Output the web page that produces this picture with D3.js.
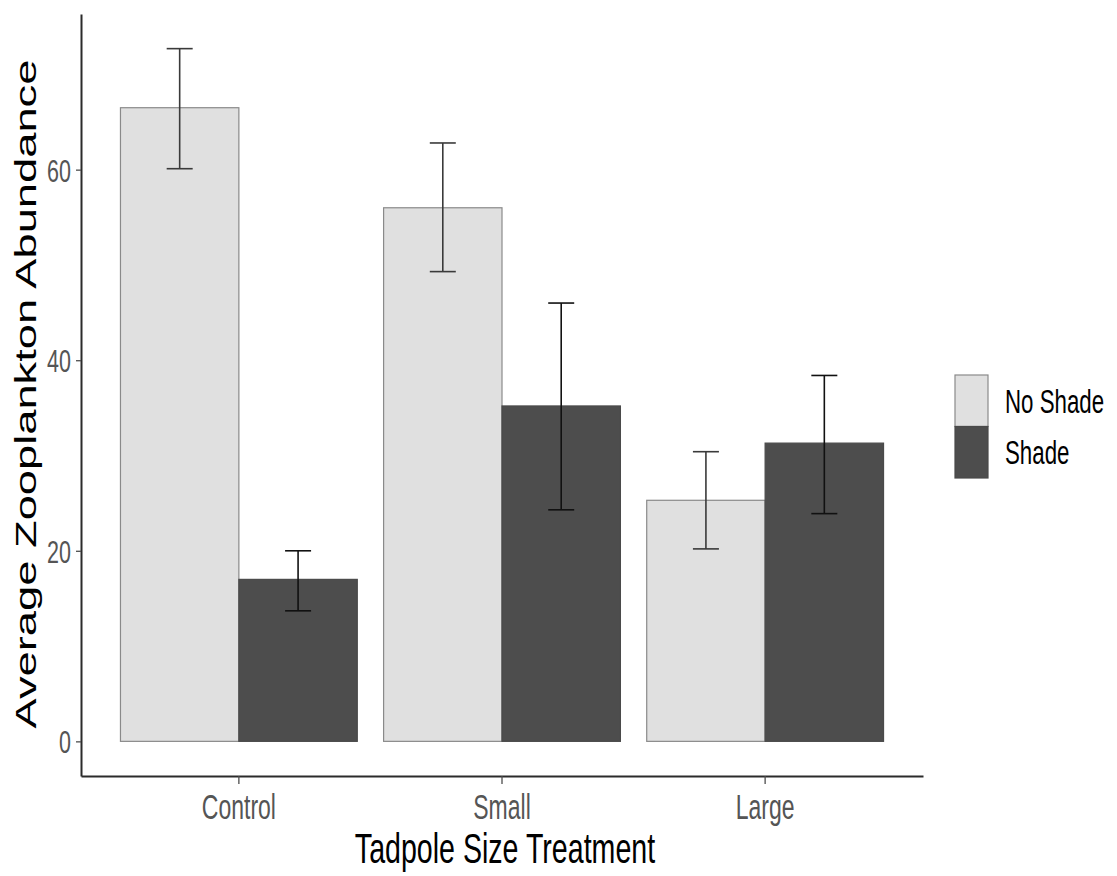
<!DOCTYPE html>
<html>
<head>
<meta charset="utf-8">
<script src="https://cdn.jsdelivr.net/npm/d3@7"></script>
<style>
  html, body { margin: 0; padding: 0; background: #ffffff; }
  svg { display: block; }
  text { font-family: "Liberation Sans", Arial, sans-serif; }
</style>
</head>
<body>
<svg id="chart" width="1117" height="876"></svg>
<script>
// ---- data ----
const categories = ["Control", "Small", "Large"];
const series = ["No Shade", "Shade"];
const noShadeMean  = [66.5, 56.0, 25.3];
const noShadeLower = [60.1, 49.3, 20.2];
const noShadeUpper = [72.7, 62.8, 30.4];
const shadeMean    = [17.0, 35.2, 31.3];
const shadeLower   = [13.7, 24.3, 23.9];
const shadeUpper   = [20.0, 46.0, 38.4];
const yTicks = [0, 20, 40, 60];
const xTitle = "Tadpole Size Treatment";
const yTitle = "Average Zooplankton Abundance";

// ---- layout ----
const SY = 1.5; // vertical stretch of text in reference
const plot = { left: 81, right: 923, top: 14, bottom: 776 };
const colors = { "No Shade": "#e0e0e0", "Shade": "#4d4d4d" };
const strokes = { "No Shade": "#8a8a8a", "Shade": "#4a4a4a" };

const rows = [];
categories.forEach((c, i) => {
  rows.push({ cat: c, s: "No Shade", v: noShadeMean[i], lo: noShadeLower[i], hi: noShadeUpper[i] });
  rows.push({ cat: c, s: "Shade", v: shadeMean[i], lo: shadeLower[i], hi: shadeUpper[i] });
});

const svg = d3.select("#chart");

const x0 = d3.scaleBand().domain(categories).range([plot.left, plot.right])
  .paddingInner(0.1).paddingOuter(0.15);
const x1 = d3.scaleBand().domain(series).range([0, x0.bandwidth()]).padding(0);

const yMax = d3.max(rows, d => d.hi);
const pad = yMax * 0.05;
const y = d3.scaleLinear().domain([-pad, yMax + pad]).range([plot.bottom, plot.top]);

// bars
svg.append("g").selectAll("rect").data(rows).join("rect")
  .attr("x", d => x0(d.cat) + x1(d.s))
  .attr("y", d => y(d.v))
  .attr("width", x1.bandwidth())
  .attr("height", d => y(0) - y(d.v))
  .attr("fill", d => colors[d.s])
  .attr("stroke", d => strokes[d.s])
  .attr("stroke-width", 1.2);

// error bars
const capW = 26;
rows.forEach(d => {
  const cx = x0(d.cat) + x1(d.s) + x1.bandwidth() / 2;
  const eg = svg.append("g").attr("stroke", d.s === "Shade" ? "#111111" : "#3a3a3a")
    .attr("stroke-width", 1.6).attr("fill", "none");
  eg.append("line").attr("x1", cx).attr("x2", cx).attr("y1", y(d.hi)).attr("y2", y(d.lo));
  eg.append("line").attr("x1", cx - capW / 2).attr("x2", cx + capW / 2).attr("y1", y(d.hi)).attr("y2", y(d.hi));
  eg.append("line").attr("x1", cx - capW / 2).attr("x2", cx + capW / 2).attr("y1", y(d.lo)).attr("y2", y(d.lo));
});

// y axis
const yAxis = svg.append("g").attr("transform", `translate(${plot.left},0)`)
  .call(d3.axisLeft(y).tickValues(yTicks).tickSize(5).tickSizeOuter(0).tickFormat(d3.format("d")));
yAxis.select(".domain").attr("stroke", "#2b2b2b").attr("stroke-width", 2);
yAxis.selectAll(".tick line").attr("stroke", "#4d4d4d").attr("stroke-width", 1.3);
yAxis.selectAll(".tick text")
  .attr("x", -10).attr("dy", "0.36em")
  .attr("transform", `scale(1,${SY})`)
  .attr("fill", "#555555").attr("font-size", 21.5)
  .style("font-family", '"Liberation Sans", Arial, sans-serif');

// x axis
const xAxis = svg.append("g").attr("transform", `translate(0,${plot.bottom})`)
  .call(d3.axisBottom(x0).tickSize(8).tickSizeOuter(0));
xAxis.select(".domain").attr("stroke", "#2b2b2b").attr("stroke-width", 2.2);
xAxis.selectAll(".tick line").attr("stroke", "#4d4d4d").attr("stroke-width", 1.3);
xAxis.selectAll(".tick text")
  .attr("y", 43 / SY).attr("dy", 0)
  .attr("transform", `scale(1,${SY})`)
  .attr("fill", "#555555").attr("font-size", 23)
  .style("font-family", '"Liberation Sans", Arial, sans-serif');

// axis titles
svg.append("text")
  .attr("transform", `translate(${(plot.left + plot.right) / 2 + 3},863) scale(1,${SY})`)
  .attr("text-anchor", "middle").attr("font-size", 28.6).attr("fill", "#000")
  .text(xTitle);

svg.append("text")
  .attr("transform", `translate(36,${(725 + 63) / 2}) scale(1,1.52) rotate(-90)`)
  .attr("text-anchor", "middle").attr("font-size", 29.8).attr("fill", "#000")
  .text(yTitle);

// legend
const lg = svg.append("g").attr("transform", "translate(955,375)");
const keyW = 33, keyH = 51.5;
series.forEach((s, i) => {
  lg.append("rect").attr("x", 0).attr("y", i * keyH).attr("width", keyW).attr("height", keyH)
    .attr("fill", colors[s]).attr("stroke", strokes[s]).attr("stroke-width", 1.2);
  lg.append("text")
    .attr("transform", `translate(50,${i * keyH + keyH / 2}) scale(1,${SY})`)
    .attr("dy", "0.36em").attr("font-size", 22.3).attr("fill", "#000")
    .text(s);
});
</script>
</body>
</html>
